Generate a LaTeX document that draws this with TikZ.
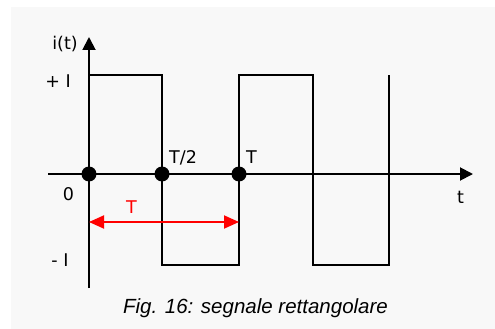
\documentclass[tikz,border=0pt]{standalone}
\usepackage{fontspec}
\setmainfont{Liberation Sans}
\newfontfamily\lblfont{DejaVu Sans}
\usetikzlibrary{arrows.meta}
\definecolor{bgc}{HTML}{F8F8F8}
\tikzset{
  wave/.style={line width=1.9pt, black},
  axis/.style={line width=1.9pt, black, -{Triangle[length=13pt,width=13pt]}},
  dotnode/.style={circle, fill=black, inner sep=0pt, minimum size=15pt},
  lbl/.style={font=\lblfont\fontsize{17.5}{20}\selectfont, inner sep=0pt},
  redarrow/.style={red, line width=1.9pt, {Triangle[length=15pt,width=13pt]}-{Triangle[length=15pt,width=13pt]}},
}
\begin{document}
\begin{tikzpicture}[x=1pt,y=-1pt]
\useasboundingbox (0,0) rectangle (495,329);
\fill[white] (0,0) rectangle (495,329);
\fill[bgc] (11,7) rectangle (495,329);
% axes
\coordinate (ystart) at (89,288);
\coordinate (yend) at (89,37);
\coordinate (xstart) at (48,174);
\coordinate (xend) at (473,174);
\draw[axis] (ystart) -- (yend);
\draw[axis] (xstart) -- (xend);
% wave
\draw[wave] (89,75) -- (162,75) -- (162,265) -- (239,265) -- (239,75) -- (313,75) -- (313,265) -- (389,265) -- (389,75);
% dots
\node[dotnode] (d0) at (89,174) {};
\node[dotnode] (d1) at (162,174) {};
\node[dotnode] (d2) at (239,174) {};
% labels
\node[lbl, anchor=base] (it) at (65,50) {i(t)};
\node[lbl, anchor=base] (pI) at (58,88) {+ I};
\node[lbl, anchor=base] (mI) at (60,266) {- I};
\node[lbl, anchor=base west] (Th) at (169,163) {T/2};
\node[lbl, anchor=base west] (T1) at (246,163) {T};
\node[lbl, anchor=base] (zero) at (68.5,200) {0};
\node[lbl, anchor=base] (tl) at (460.5,203) {t};
\node[lbl, anchor=base, red] (Tr) at (131.5,213) {T};
\draw[redarrow] (d0 |- 0,222) -- (d2 |- 0,222);
\node[font=\fontsize{20.5}{24}\selectfont\itshape, anchor=base] (cap) at (255.5,313) {Fig. 16: segnale rettangolare};
\end{tikzpicture}
\end{document}
